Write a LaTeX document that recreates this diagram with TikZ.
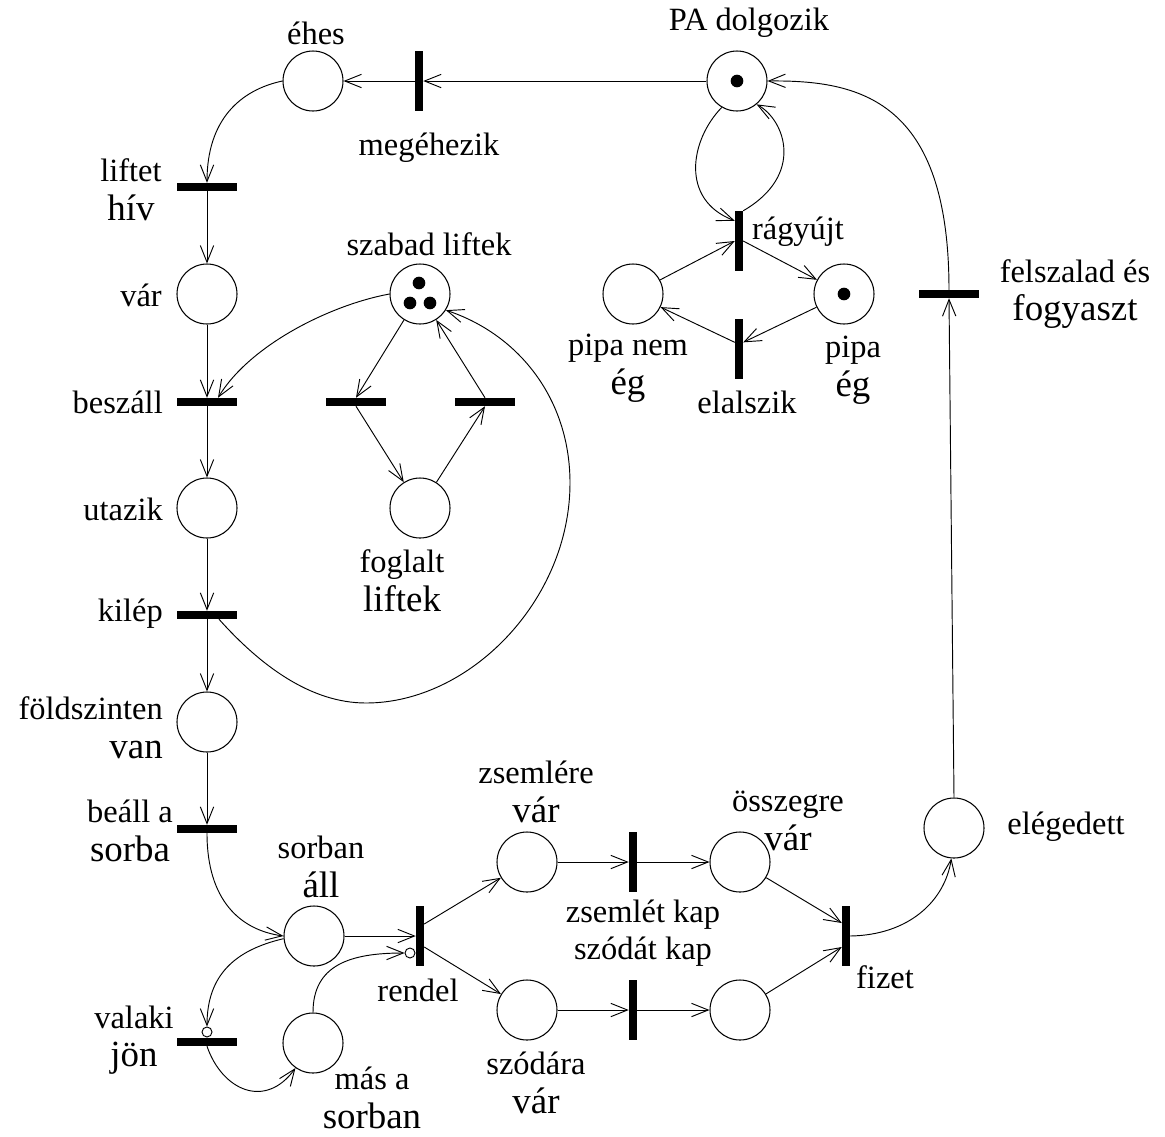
\documentclass[tikz,border=0pt]{standalone}
\usepackage{fontspec}
\setmainfont{Liberation Serif}
\usetikzlibrary{arrows.meta}
\newcommand{\bigline}{\fontsize{31.5}{34}\selectfont}

\begin{document}
\begin{tikzpicture}[x=0.03cm,y=-0.03cm,
  >={Straight Barb[length=0.5cm,width=0.4cm]},
  pnplace/.style={circle,draw,line width=0.9pt,minimum size=1.8cm,inner sep=0},
  htrans/.style={rectangle,fill=black,minimum width=1.8cm,minimum height=0.24cm,inner sep=0},
  vtrans/.style={rectangle,fill=black,minimum width=0.24cm,minimum height=1.8cm,inner sep=0},
  pninh/.style={circle,draw,line width=0.8pt,fill=white,minimum size=0.3cm,inner sep=0},
  pntok/.style={circle,fill=black,minimum size=0.38cm,inner sep=0},
  lbl/.style={font=\fontsize{27.7}{33}\selectfont,inner sep=0,align=center},
  flow/.style={->,line width=0.8pt},
]
\useasboundingbox (0,0) rectangle (1165,1136);

% places
\node[pnplace] (ehes) at (313,81) {};
\node[pnplace] (pa)   at (737,81) {};
\node[pnplace] (var)  at (207,294) {};
\node[pnplace] (szab) at (420,294) {};
\node[pnplace] (pne)  at (633,294) {};
\node[pnplace] (pe)   at (844,294) {};
\node[pnplace] (utaz) at (207,508) {};
\node[pnplace] (fog)  at (420,508) {};
\node[pnplace] (fold) at (207,722) {};
\node[pnplace] (eleg) at (954,828) {};
\node[pnplace] (sorb) at (314,936) {};
\node[pnplace] (zsv)  at (527,862) {};
\node[pnplace] (osz)  at (740,862) {};
\node[pnplace] (mas)  at (313,1043) {};
\node[pnplace] (szv)  at (527,1010) {};
\node[pnplace] (kesz) at (740,1010) {};

% tokens
\node[pntok] (tpa) at (737,81) {};
\node[pntok] (tpe) at (844,294) {};
\node[pntok] (tsz1) at (419,283) {};
\node[pntok] (tsz2) at (410,303) {};
\node[pntok] (tsz3) at (430,303) {};

% transitions
\node[vtrans] (meg)  at (419,81) {};
\node[htrans] (lh)   at (207,187) {};
\node[htrans] (besz) at (207,402) {};
\node[htrans] (lb)   at (356,402) {};
\node[htrans] (rb)   at (485,402) {};
\node[htrans] (kil)  at (207,615) {};
\node[htrans] (bea)  at (207,829) {};
\node[htrans] (vj)   at (207,1042) {};
\node[vtrans] (ren)  at (420,936) {};
\node[vtrans] (zk)   at (633,862) {};
\node[vtrans] (sk)   at (633,1010) {};
\node[vtrans] (fiz)  at (846,936) {};
\node[htrans] (fel)  at (949,294) {};
\node[vtrans] (rgy)  at (739,241) {};
\node[vtrans] (ela)  at (739,349) {};

% inhibitor ends
\node[pninh] (vjinh)  at (207,1032) {};
\node[pninh] (reninh) at (410,953) {};

% labels
\node[lbl] (l1)  at (316,33) {éhes};
\node[lbl] (l2)  at (749,23) {PA dolgozik};
\node[lbl] (l3)  at (429,148) {megéhezik};
\node[lbl] (l4)  at (131,190) {liftet\\{\bigline hív}};
\node[lbl,anchor=east] (l5)  at (162,295) {vár};
\node[lbl,anchor=east] (l6)  at (163,402) {beszáll};
\node[lbl,anchor=east] (l7)  at (163,509) {utazik};
\node[lbl,anchor=east] (l8)  at (163,614) {kilép};
\node[lbl,anchor=east,align=right] (l9) at (163,728) {földszinten\\{\bigline van}};
\node[lbl] (l10) at (130,831) {beáll a\\{\bigline sorba}};
\node[lbl] (l11) at (134,1040) {valaki\\{\bigline jön}};
\node[lbl] (l12) at (321,867) {sorban\\{\bigline áll}};
\node[lbl] (l13) at (372,1098) {más a\\{\bigline sorban}};
\node[lbl] (l14) at (418,990) {rendel};
\node[lbl] (l15) at (536,792) {zsemlére\\{\bigline vár}};
\node[lbl] (l16) at (536,1083) {szódára\\{\bigline vár}};
\node[lbl] (l17) at (643,915) {zsemlét kap};
\node[lbl] (l18) at (643,952) {szódát kap};
\node[lbl] (l19) at (788,821) {összegre\\{\bigline vár}};
\node[lbl] (l20) at (885,977) {fizet};
\node[lbl] (l21) at (1066,827) {elégedett};
\node[lbl] (l22) at (1075,294) {felszalad és\\{\bigline fogyaszt}};
\node[lbl] (l23) at (798,232) {rágyújt};
\node[lbl] (l24) at (628,368) {pipa nem\\{\bigline ég}};
\node[lbl] (l25) at (853,370) {pipa\\{\bigline ég}};
\node[lbl] (l26) at (747,402) {elalszik};
\node[lbl] (l27) at (429,244) {szabad liftek};
\node[lbl] (l28) at (402,581) {foglalt\\{\bigline liftek}};

% top row
\draw[flow] (pa.west) -- (meg.east);
\draw[flow] (meg.west) -- (ehes.east);
\draw[flow] (ehes.west) .. controls (240,90) and (207,120) .. (lh.north);

% left column
\draw[flow] (lh) -- (var);
\draw[flow] (var) -- (besz);
\draw[flow] (besz) -- (utaz);
\draw[flow] (utaz) -- (kil);
\draw[flow] (kil) -- (fold);
\draw[flow] (fold) -- (bea);

% lifts
\draw[flow] (szab.west) .. controls (330,305) and (250,345) .. ([xshift=0.33cm]besz.north);
\draw[flow] (szab) -- (lb.north);
\draw[flow] (lb.south) -- (fog);
\draw[flow] (fog) -- (rb.south);
\draw[flow] (rb.north) -- (szab);
\draw[flow] ([xshift=0.36cm]kil.south) .. controls (260,665) and (310,703) .. (366,703)
   .. controls (470,703) and (570,600) .. (570,483)
   .. controls (570,400) and (520,335) .. (szab.-32);

% queue
\draw[flow] (bea.south) .. controls (207,900) and (240,930) .. (sorb.west);
\draw[flow] (sorb.185) .. controls (235,950) and (207,975) .. (vjinh.north);
\draw[flow] (vj.south) .. controls (222,1090) and (265,1110) .. (mas.235);
\draw[flow] (mas.north) .. controls (313,965) and (350,953) .. (reninh.west);
\draw[flow] (sorb.east) -- (ren.west);

% ordering and paying
\draw[flow] ([yshift=0.36cm]ren.east) -- (zsv);
\draw[flow] ([yshift=-0.33cm]ren.east) -- (szv);
\draw[flow] (zsv) -- (zk);
\draw[flow] (zk) -- (osz);
\draw[flow] (szv) -- (sk);
\draw[flow] (sk) -- (kesz);
\draw[flow] (osz) -- ([yshift=0.39cm]fiz.west);
\draw[flow] (kesz) -- ([yshift=-0.33cm]fiz.west);
\draw[flow] (fiz.east) .. controls (910,935) and (945,900) .. (eleg.265);
\draw[flow] (eleg.north) -- (fel.south);
\draw[flow] (fel.north) .. controls (949,100) and (860,80) .. (pa.east);

% pipe
\draw[flow] (pa.240) .. controls (690,140) and (680,200) .. ([yshift=-0.3cm]rgy.north west);
\draw[flow] (rgy.north east) .. controls (805,175) and (785,120) .. (pa.310);
\draw[flow] (pne) -- (rgy.west);
\draw[flow] (rgy.east) -- (pe);
\draw[flow] (pe) -- ([yshift=0.2cm]ela.east);
\draw[flow] ([yshift=0.2cm]ela.west) -- (pne);
\end{tikzpicture}
\end{document}
